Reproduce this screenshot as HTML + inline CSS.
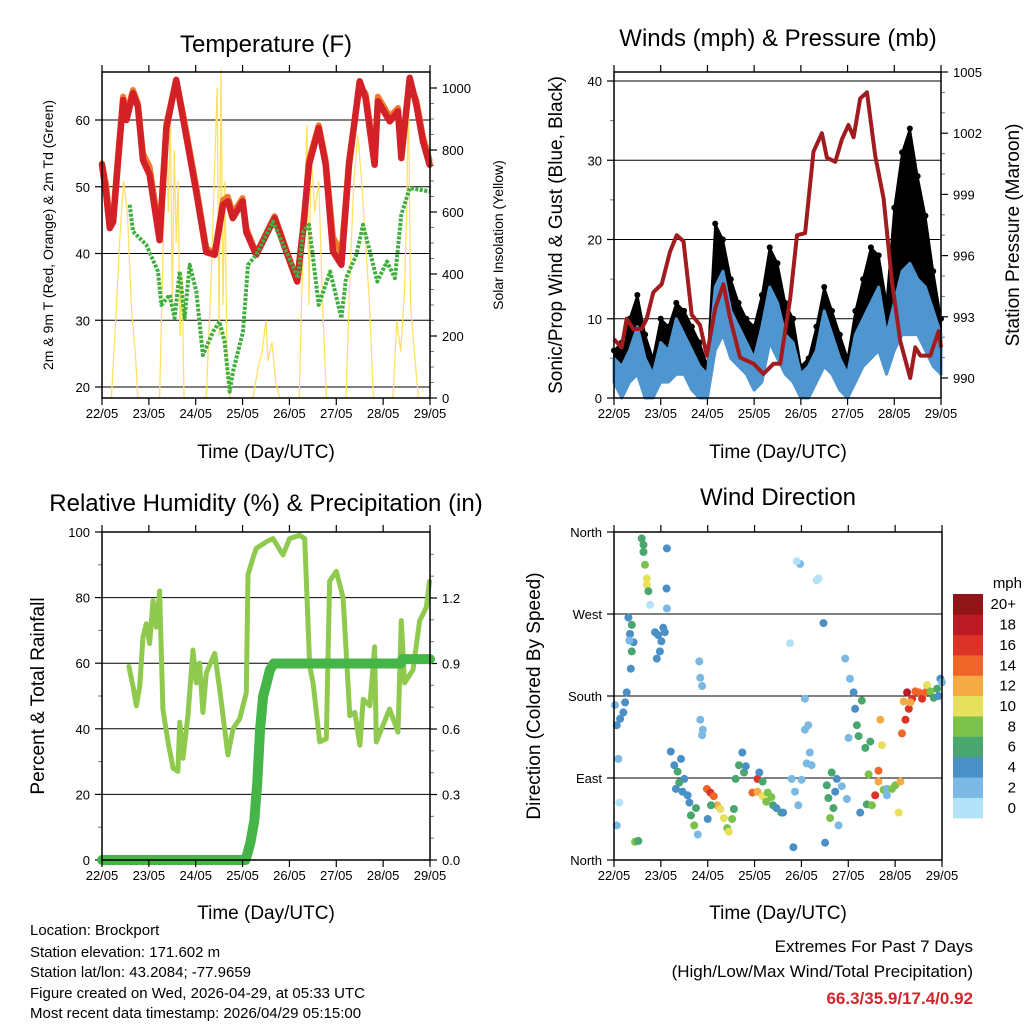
<!DOCTYPE html>
<html><head><meta charset="utf-8"><style>
html,body{margin:0;padding:0;background:#fff;}
svg{display:block;font-family:"Liberation Sans",Arial,sans-serif;}
</style></head><body>
<svg id="c" width="1024" height="1024" viewBox="0 0 1024 1024" xmlns="http://www.w3.org/2000/svg">
<rect width="1024" height="1024" fill="#fff"/>
<g font-size="24" text-anchor="middle" fill="#000">
<text x="266" y="52">Temperature (F)</text>
<text x="778" y="46">Winds (mph) &amp; Pressure (mb)</text>
<text x="266" y="511">Relative Humidity (%) &amp; Precipitation (in)</text>
<text x="778" y="505">Wind Direction</text>
</g>
<g font-size="19" text-anchor="middle">
<text x="266" y="458">Time (Day/UTC)</text>
<text x="778" y="458">Time (Day/UTC)</text>
<text x="266" y="919">Time (Day/UTC)</text>
<text x="778" y="919">Time (Day/UTC)</text>
<text transform="translate(53,235) rotate(-90)" font-size="14">2m &amp; 9m T (Red, Orange) &amp; 2m Td (Green)</text>
<text transform="translate(503,235) rotate(-90)" font-size="14">Solar Insolation (Yellow)</text>
<text transform="translate(562,235) rotate(-90)">Sonic/Prop Wind &amp; Gust (Blue, Black)</text>
<text transform="translate(1019,235) rotate(-90)">Station Pressure (Maroon)</text>
<text transform="translate(44,696) rotate(-90)">Percent &amp; Total Rainfall</text>
<text transform="translate(540,696) rotate(-90)">Direction (Colored By Speed)</text>
</g>
<g font-size="15">
<text x="30" y="935">Location: Brockport</text>
<text x="30" y="957">Station elevation: 171.602 m</text>
<text x="30" y="977">Station lat/lon: 43.2084; -77.9659</text>
<text x="30" y="998">Figure created on Wed, 2026-04-29, at 05:33 UTC</text>
<text x="30" y="1018">Most recent data timestamp: 2026/04/29 05:15:00</text>
</g>
<g font-size="17" text-anchor="end">
<text x="973" y="952">Extremes For Past 7 Days</text>
<text x="973" y="977">(High/Low/Max Wind/Total Precipitation)</text>
<text x="973" y="1004" fill="#d0262c" font-weight="bold">66.3/35.9/17.4/0.92</text>
</g>
</svg>
<script>
// ---------- data ----------
const dayLabels=["22/05","23/05","24/05","25/05","26/05","27/05","28/05","29/05"];
const tHours=[0,2,4,5.7,8,10.8,12.5,15.9,18.4,21,24.4,29.5,33,38,41.5,48.3,53.4,57.7,62,64.5,67,72,73.9,79,88.4,94.4,100,102.9,106,111,114.6,118.3,122.6,126.5,132,135,139.6,141.3,147.4,151.6,153.3,157.6,161,164.4,167.8];
const tRed=[53.3,49.3,43.8,44.7,53,63,60,64,62,54,51.8,42,58.8,66,60.3,49.2,40.2,39.8,47.3,47.8,45.3,47.8,43.2,39.8,45.3,40.3,35.8,43.3,53.3,58.8,53.3,40.3,38.3,53.3,65.8,63.3,53.3,62.8,59.8,61.3,54.3,66.3,62.3,56.8,53.3];
const tOrange=[53.5,50.5,45,45.5,54,63.5,61,64.5,62.5,55,53,43,59.5,66,61,50,40.8,40,48,48.5,46,48.3,43.8,40,45.6,40.6,36,43.8,54,59.2,54,42.5,40,54,65,64,54.5,63.5,60.5,61.8,55,65.5,63,57.5,54];
const tdHours=[14.2,15.9,22.7,28.7,30.4,34.7,37.2,39.8,42.3,44.9,48.3,51.7,56.9,60.2,62.8,65.4,67.1,72.2,74.8,79,87.6,94.4,100.4,103,106,111,116.9,122.6,125,130.3,133.7,137.2,141,146,150,153.3,157.6,167.8];
const tdVals=[47.3,43.3,41.3,37.3,32.3,33.8,30.3,37.3,30.3,38.3,34.3,24.8,28.3,29.8,26.8,19.3,22.3,28.3,38.3,39.8,44.8,40.3,36.3,43.3,44.3,32.3,37.3,30.3,36.3,39.8,44.3,40.3,35.8,38.8,36.3,45.8,49.8,49.3];
const solHours=[0,4.8,7,9,11,13,15,17,18.4,29.5,31,33,34,35,36,37,38,39,40,41,42,53.4,56,58,59,60,61,62,63,64,65.5,77.3,80,82,84,85,87,89,91,101,103,105,106,107,109,111,113,115,125,127,129,131,133,135,137,139,149,151,153,155,156,157,158,160,162,168];
const solVals=[0,0,250,500,700,600,300,150,0,0,400,880,600,950,300,800,500,700,200,400,0,0,400,800,1000,200,1060,300,700,100,0,0,100,150,250,120,180,50,0,0,500,880,300,800,600,700,300,0,0,400,700,850,700,500,300,0,0,250,150,350,600,1000,300,150,0,0];
const pHours=[0,3.9,6.5,9.9,14.2,16.8,20.2,24.5,28.8,32.2,35.7,39.9,44.2,47.7,52,56.2,59.7,64.8,71.7,76.8,82,85.4,90.5,94,98.2,102.5,106.8,109.4,113.7,117.1,120.5,123.1,126.5,130,134.2,138.5,142.8,147.1,152.2,154.8,157.4,162.5,166.8,168];
const pVals=[991.9,991.5,992.9,992.4,992.4,992.9,994.2,994.6,996.2,997.0,996.7,993.1,992.6,991.1,993.4,994.6,992.9,991.0,990.7,990.2,990.7,990.7,993.9,997.0,997.1,1001.1,1002.0,1000.8,1000.6,1001.7,1002.4,1001.8,1003.7,1004.0,1000.9,998.8,994.7,991.8,990.0,991.5,991.1,991.1,992.3,991.5];
const wHours=[0,4,8,12,16,20,24,28,32,36,40,44,48,52,56,60,64,68,72,76,80,84,88,92,96,100,104,108,112,116,120,124,128,132,136,140,144,148,152,156,160,164,168];
const windLow=[2,0,2,3,0,0,2,2,3,3,1,0,0,6,8,5,4,3,1,2,7,5,3,2,0,0,2,4,3,1,0,2,4,5,6,3,6,8,8,8,6,4,3];
const windHigh=[5,4,6,9,5,3,7,6,10,8,6,4,3,14,16,11,9,7,5,9,14,12,8,7,3,4,6,11,8,5,3,8,10,12,14,8,12,16,17,15,14,11,8];
const gustHigh=[6,7,10,13,8,5,10,9,12,11,9,7,4,22,20,15,12,10,9,13,19,17,12,10,4,5,9,14,11,8,5,11,15,19,18,12,24,31,34,28,23,16,10];
const rhHours=[13.8,15.9,17.6,19.3,21,22.7,24.4,26.1,27.8,29.5,31.2,33.8,36.4,38.9,39.8,41.5,44,46.6,48.3,50,51.7,53.4,57.7,60.3,64.5,67.1,70.5,73.9,74.8,77.3,79,84.2,87.6,92.7,96.1,101.2,103.8,106.4,108.1,111.5,114.9,116.6,120,123.5,126.9,129.5,132.1,133.8,137.2,139.6,140.5,143.9,147.3,151.6,153.3,155,159.3,162.7,166.1,167.8];
const rhVals=[59,53,47,53,68,72,66,79,71,82,46,36,28,27,42,31,44,64,54,60,45,57,63,52,32,40,43,51,87,92,95,97,98,93,98,99,98,59,54,36,37,85,88,80,44,45,35,49,47,65,36,41,46,39,73,54,58,73,77,85];
const prHours=[0,73.5,74.5,76,78,79.5,81,82.5,84,86,88,153,154,168];
const prVals=[0,0,0.03,0.08,0.18,0.35,0.6,0.75,0.8,0.87,0.9,0.9,0.92,0.92];
const wdHours=[0.5,1.4,3.1,4.8,5.7,6.5,2.2,2.7,1.4,7.4,8.2,9.1,8.6,10,9.1,7.9,14.2,15.1,15.9,16.8,16.8,17.6,15.1,18.5,21,22.6,24.3,25.2,23.5,21.9,26,27.1,26.9,27.1,10.8,12.5,29.1,30.9,32.6,34.3,36,33.4,31.7,35.1,38.6,39.4,41.1,42,42.9,37.7,43.7,45.1,44.2,45.1,44.2,45.5,47.6,49.4,51.1,52.8,54.5,56.3,58,58.8,60.5,61.4,49.7,48,62.3,64,65.7,66.6,67.5,73.5,70.9,73.5,76.1,78.7,78,80.6,81.5,83.2,85.7,86.6,74.4,76.1,91,92.7,94.4,96.1,97.8,99.5,100.3,101.2,97.8,98.7,91.9,95.3,103.8,104.7,93.6,90.2,107.3,109,109.8,110.7,112.4,113.3,114.1,115,108.1,111.5,116.7,119.3,118.4,120.9,123.5,124.4,122.7,125.3,126.9,120.1,128.7,129.5,130.4,131.3,132.1,133.8,135.5,136.4,137.2,138.1,135.5,139.8,139.8,126.1,142.4,144.1,145.8,146.7,147.5,149.3,151,152.7,154.4,156.1,157.8,159.5,160.3,162.1,163.8,165.5,167.2,168,166.3,148.4,151.8,150.1];
const wdDir=[170,148,155,162,173,184,111,63,38,266,248,229,210,239,258,241,353,338,324,309,302,295,346,280,250,247,240,255,229,221,250,342,298,276,20,21,119,104,97,111,89,85,78,75,63,49,38,57,28,71,218,191,154,137,200,143,78,74,70,60,56,46,35,31,45,56,60,45,89,104,118,96,103,89,74,75,70,74,64,69,60,57,52,52,96,86,89,75,60,88,177,148,118,104,143,106,14,325,307,309,328,238,260,82,68,46,57,75,89,38,19,96,81,67,221,199,166,148,184,136,175,134,123,61,94,130,60,71,98,154,126,77,86,78,71,52,78,82,52,86,139,154,166,177,185,184,177,184,192,185,178,188,199,195,180,174,173,184,168,201,190,184,155,177,155,169];
const wdSpd=[3,4,4,4,4,4,2,1,3,4,5,6,4,4,6,3,6,7,8,10,10,6,7,1,4,4,4,4,5,5,4,4,4,3,9,6,4,4,6,4,5,6,4,4,5,7,8,6,3,4,2,2,2,2,2,2,14,16,15,13,10,10,9,10,8,7,6,5,7,6,5,6,5,17,14,12,10,8,8,8,6,5,6,5,5,6,3,2,2,2,2,3,3,3,2,3,4,2,1,1,1,1,5,6,7,9,6,5,4,3,4,6,3,3,2,2,4,6,4,6,6,2,6,7,8,7,8,17,15,13,11,9,12,3,2,4,8,9,10,12,15,16,17,16,15,14,16,15,11,9,7,6,4,3,4,13,12,18];
const spdBins=["0","2","4","6","8","10","12","14","16","18","20+"];
const spdColors=["#b3e1f7","#7bb9e4","#4a8fc6","#48a66e","#7cc24a","#e6e05c","#f6aa45","#ef6429","#dc3228","#ba1b24","#8f1519"];

// ---------- helpers ----------
const NS="http://www.w3.org/2000/svg";
const svg=document.getElementById('c');
function mk(tag,attrs,parent){const e=document.createElementNS(NS,tag);for(const k in attrs)e.setAttribute(k,attrs[k]);(parent||svg).appendChild(e);return e;}
function linScale(d0,d1,r0,r1){return v=>r0+(v-d0)*(r1-r0)/(d1-d0);}
function pathD(xs,ys,fx,fy){return xs.map((h,i)=>(i?'L':'M')+fx(h).toFixed(1)+','+fy(ys[i]).toFixed(1)).join('');}

function frame(P,name){
  const g=mk('g',{});
  
  
  mk('rect',{x:P.x0,y:P.y0,width:P.x1-P.x0,height:P.y1-P.y0,fill:'none',stroke:'#000','stroke-width':1.5},g);
  return g;
}
function xAxis(P,name){
  const fx=linScale(0,168,P.x0,P.x1);
  const g=mk('g',{'font-size':13,'text-anchor':'middle'});
  
  
  dayLabels.forEach((lab,i)=>{
    const x=fx(i*24);
    mk('line',{x1:x,x2:x,y1:P.y1,y2:P.y1+7,stroke:'#000','stroke-width':1.2},g);
    mk('line',{x1:x,x2:x,y1:P.y0,y2:P.y0-7,stroke:'#000','stroke-width':1.2},g);
    const t=mk('text',{x:x,y:P.y1+20},g);t.textContent=lab;
    
    
  });
}
function yAxis(P,vals,labels,fy,side,grid,name,minor){
  const g=mk('g',{'font-size':13,'text-anchor':side==='left'?'end':'start'});
  
  
  vals.forEach((v,i)=>{
    const y=fy(v);
    if(grid) mk('line',{x1:P.x0,x2:P.x1,y1:y,y2:y,stroke:'#000','stroke-width':1},g);
    if(side==='left'){
      mk('line',{x1:P.x0-7,x2:P.x0,y1:y,y2:y,stroke:'#000','stroke-width':1.2},g);
      const t=mk('text',{x:P.x0-12,y:y+5},g);t.textContent=labels[i];
    }else{
      mk('line',{x1:P.x1,x2:P.x1+7,y1:y,y2:y,stroke:'#000','stroke-width':1.2},g);
      const t=mk('text',{x:P.x1+12,y:y+5},g);t.textContent=labels[i];
    }
  });
  if(minor){minor.forEach(v=>{const y=fy(v);
    if(side==='left')mk('line',{x1:P.x0-4,x2:P.x0,y1:y,y2:y,stroke:'#777','stroke-width':1},g);
    else mk('line',{x1:P.x1,x2:P.x1+4,y1:y,y2:y,stroke:'#777','stroke-width':1},g);});}
}

// ---------- Panel 1: Temperature ----------
{
  const P={x0:102,x1:430,y0:72,y1:398};
  const fx=linScale(0,168,P.x0,P.x1);
  const fy=linScale(20,60,387,120);
  const fs=linScale(0,1000,398,88);
  yAxis(P,[20,30,40,50,60],["20","30","40","50","60"],fy,'left',true,'temp-y-axis');
  yAxis(P,[0,200,400,600,800,1000],["0","200","400","600","800","1000"],fs,'right',false,'solar-y-axis',[50,100,150,250,300,350,450,500,550,650,700,750,850,900,950]);
  const ys=mk('path',{d:pathD(solHours,solVals,fx,fs),fill:'none',stroke:'#ffe066','stroke-width':1.3});
  
  
  const o=mk('path',{d:pathD(tHours,tOrange,fx,fy),fill:'none',stroke:'#f07a2e','stroke-width':6,'stroke-linejoin':'round','stroke-linecap':'round'});
  
  
  const r=mk('path',{d:pathD(tHours,tRed,fx,fy),fill:'none',stroke:'#d42027','stroke-width':6.5,'stroke-linejoin':'round','stroke-linecap':'round'});
  
  
  const gd=mk('path',{d:pathD(tdHours,tdVals,fx,fy),fill:'none',stroke:'#3fae3f','stroke-width':4,'stroke-dasharray':'3 1.5','stroke-linejoin':'round'});
  
  
  frame(P,'temperature');
  xAxis(P,'temperature');
}

// ---------- Panel 2: Winds & Pressure ----------
{
  const P={x0:614,x1:941,y0:72,y1:398};
  const fx=linScale(0,168,P.x0,P.x1);
  const fy=linScale(0,40,398,81);
  const fp=linScale(990,1005,378,72);
  yAxis(P,[0,10,20,30,40],["0","10","20","30","40"],fy,'left',true,'wind-y-axis',[5,15,25,35]);
  yAxis(P,[990,993,996,999,1002,1005],["990","993","996","999","1002","1005"],fp,'right',false,'pressure-y-axis',[991,992,994,995,997,998,1000,1001,1003,1004]);
  const gg=mk('g',{});
  
  
  const top=wHours.map((h,i)=>fx(h).toFixed(1)+','+fy(gustHigh[i]).toFixed(1));
  const bot=wHours.map((h,i)=>fx(h).toFixed(1)+','+fy(windLow[i]).toFixed(1)).reverse();
  mk('polygon',{points:top.concat(bot).join(' '),fill:'#000',stroke:'#000','stroke-width':2,'stroke-linejoin':'round'},gg);
  wHours.forEach((h,i)=>{const c=mk('circle',{cx:fx(h),cy:fy(gustHigh[i]),r:3,fill:'#000'},gg);
    
    });
  const bt=wHours.map((h,i)=>fx(h).toFixed(1)+','+fy(windHigh[i]).toFixed(1));
  const bb=wHours.map((h,i)=>fx(h).toFixed(1)+','+fy(windLow[i]).toFixed(1)).reverse();
  const bl=mk('polygon',{points:bt.concat(bb).join(' '),fill:'#4f95d0',stroke:'#4f95d0','stroke-width':3,'stroke-linejoin':'round'});
  
  
  const pr=mk('path',{d:pathD(pHours,pVals,fx,fp),fill:'none',stroke:'#a01c1f','stroke-width':4,'stroke-linejoin':'round'});
  
  
  frame(P,'winds');
  xAxis(P,'winds');
}

// ---------- Panel 3: RH & Precip ----------
{
  const P={x0:102,x1:430,y0:532,y1:860};
  const fx=linScale(0,168,P.x0,P.x1);
  const fy=linScale(0,100,860,532);
  const fr=linScale(0,1.2,860,598);
  yAxis(P,[0,20,40,60,80,100],["0","20","40","60","80","100"],fy,'left',true,'rh-y-axis',[10,30,50,70,90]);
  yAxis(P,[0,0.3,0.6,0.9,1.2],["0.0","0.3","0.6","0.9","1.2"],fr,'right',false,'precip-y-axis',[0.1,0.2,0.4,0.5,0.7,0.8,1.0,1.1,1.3,1.4]);
  const rh=mk('path',{d:pathD(rhHours,rhVals,fx,fy),fill:'none',stroke:'#8fca4f','stroke-width':5,'stroke-linejoin':'round','stroke-linecap':'round'});
  
  
  const pc=mk('path',{d:pathD(prHours,prVals,fx,fr),fill:'none',stroke:'#45b547','stroke-width':10,'stroke-linejoin':'round','stroke-linecap':'round'});
  
  
  frame(P,'humidity');
  xAxis(P,'humidity');
}

// ---------- Panel 4: Wind direction ----------
{
  const P={x0:614,x1:942,y0:532,y1:860};
  const fx=linScale(0,168,P.x0,P.x1);
  const fd=linScale(0,360,860,532);
  yAxis(P,[0,90,180,270,360],["North","East","South","West","North"],fd,'left',true,'direction-y-axis');
  const gp=mk('g',{});
  
  
  wdHours.forEach((h,i)=>{
    const b=Math.min(10,Math.floor(wdSpd[i]/2));
    const c=mk('circle',{cx:fx(h).toFixed(1),cy:fd(wdDir[i]).toFixed(1),r:4,fill:spdColors[b]},gp);
    
    
  });
  frame(P,'wind-direction');
  xAxis(P,'wind-direction');
  const cb=mk('g',{'font-size':15,'text-anchor':'end'});
  
  
  const bh=(818-594)/spdBins.length;
  spdBins.forEach((lab,i)=>{
    const y=818-bh*(i+1);
    const r=mk('rect',{x:953,y:y,width:30,height:bh+0.3,fill:spdColors[i]},cb);
    
    
    const t=mk('text',{x:1016,y:y+bh/2+5},cb);t.textContent=lab;
  });
  const m=mk('text',{x:1022,y:588},cb);m.textContent='mph';
}
</script>
</body></html>
